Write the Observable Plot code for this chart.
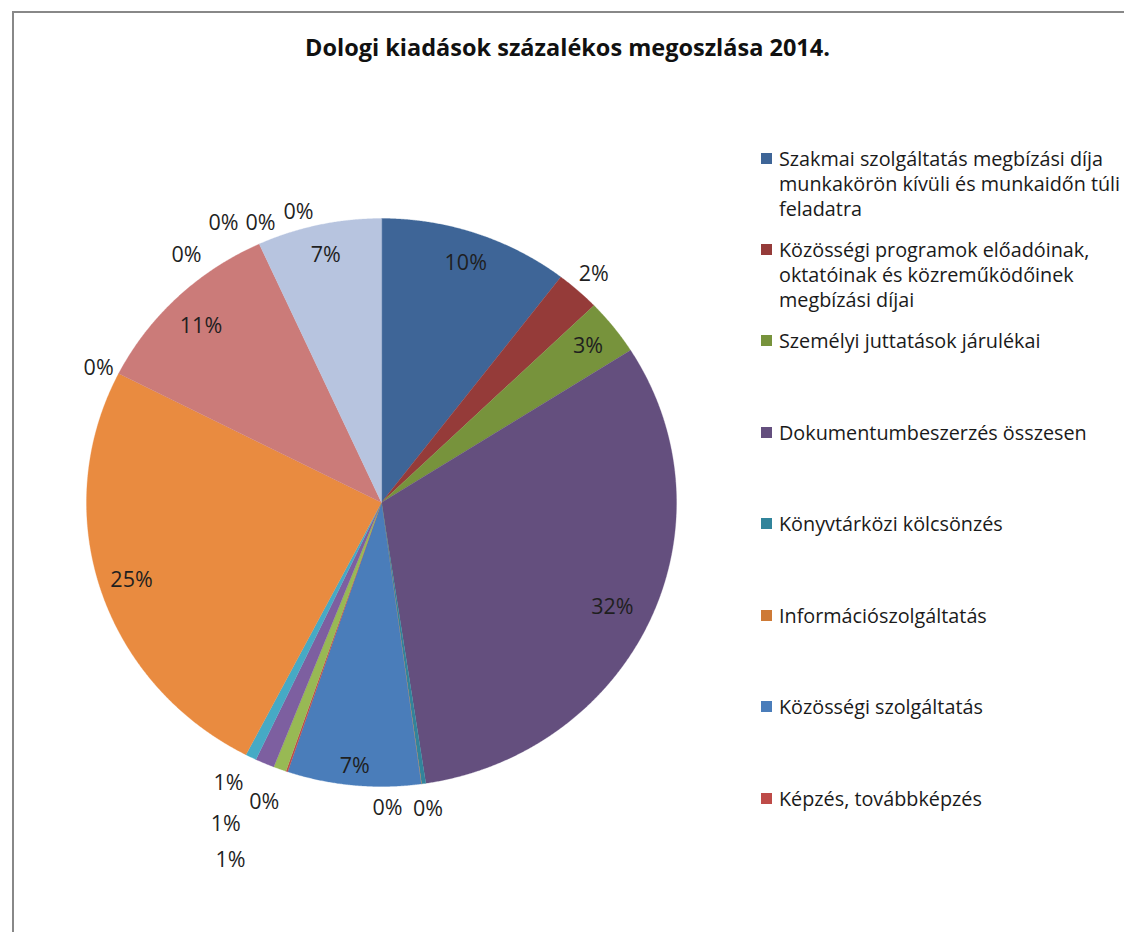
<!DOCTYPE html>
<html><head><meta charset="utf-8">
<script src="https://cdn.jsdelivr.net/npm/d3@7"></script>
<script src="https://cdn.jsdelivr.net/npm/@observablehq/plot@0.6"></script>
<style>
html,body{margin:0;padding:0;background:#fff;}
#page{position:relative;width:1124px;height:932px;overflow:hidden;font-family:"Open Sans",sans-serif;color:#1a1a1a;}
#frame{position:absolute;left:12px;top:11px;width:1200px;height:1000px;border-left:2px solid #888;border-top:2px solid #888;box-sizing:border-box;}
#chart{position:absolute;left:0;top:0;}
#title{position:absolute;left:0;width:1135px;top:32px;line-height:30px;text-align:center;font-weight:700;font-size:23.5px;color:#111;}
#legend{position:absolute;left:761px;top:145.5px;}
.item{height:91.45px;display:flex;align-items:flex-start;}
.sw{width:11px;height:11px;margin-top:7px;margin-right:7px;flex:none;}
.lbl{width:345px;font-size:19.8px;line-height:25px;color:#1a1a1a;}
</style></head>
<body>
<div id="page">
  <div id="frame"></div>
  <div id="chart"></div>
  <div id="title"></div>
  <div id="legend"></div>
</div>
<script>
const titleText = "Dologi kiadások százalékos megoszlása 2014.";
const categories = [
  "Szakmai szolgáltatás megbízási díja munkakörön kívüli és munkaidőn túli feladatra",
  "Közösségi programok előadóinak, oktatóinak és közreműködőinek megbízási díjai",
  "Személyi juttatások járulékai",
  "Dokumentumbeszerzés összesen",
  "Könyvtárközi kölcsönzés",
  "Információszolgáltatás",
  "Közösségi szolgáltatás",
  "Képzés, továbbképzés",
  "Kategória 9", "Kategória 10", "Kategória 11", "Kategória 12", "Kategória 13",
  "Kategória 14", "Kategória 15", "Kategória 16", "Kategória 17", "Kategória 18", "Kategória 19"
];
const values = [10.4, 2.4, 3.2, 31.6, 0.23, 0.02, 7.3, 0.1, 0.7, 1.05, 0.6, 24.9, 0, 10.7, 0, 0, 0, 0, 6.8];
const legendCount = 8;

// palette (Excel-style cycle: darker, base, lighter)
const palette = ["#3E6597","#953B39","#77933C","#644F7E","#31849B","#CE7A36",
                 "#4A7DBA","#BE4B48","#98B954","#7D5FA0","#46AAC5","#E98B40",
                 "#7F9FCF","#CB7B79","#B3CD85","#A08CC0","#7CC6DA","#F9B684","#B7C4DF"];

// layout
const W = 740, H = 932;
const cyTop = 218, cyBot = 786, left = 86, right = 676;
const RX = (right - left) / 2, RY = (cyBot - cyTop) / 2;
// label collision nudges in px (layout only)
const nudge = {3:[-8,0], 4:[1,3], 5:[-37,2], 6:[-2,12], 7:[-15,9], 8:[-46,34], 9:[-25,76], 10:[-12,6],
               12:[1,5], 13:[1,6], 14:[-63,32], 15:[-26,0], 16:[11,0], 17:[49,-11]};

const total = d3.sum(values);
let cum = 0;
const slices = values.map((v, i) => {
  const a0 = cum / total * 2 * Math.PI; cum += v; const a1 = cum / total * 2 * Math.PI;
  return {i, cat: categories[i], v, a0, a1, pct: Math.round(v / total * 100 + 1e-9)};
});
const pts = [];
for (const s of slices) {
  if (s.v <= 0) continue;
  pts.push({cat: s.cat, x: 0, y: 0});
  const n = Math.max(2, Math.ceil((s.a1 - s.a0) / 0.004));
  for (let k = 0; k <= n; k++) {
    const t = s.a0 + (s.a1 - s.a0) * k / n;
    pts.push({cat: s.cat, x: Math.sin(t), y: Math.cos(t)});
  }
}
const labels = slices.map(s => {
  const m = (s.a0 + s.a1) / 2;
  const inside = s.v / total >= 0.03;
  const r = inside ? 0.89 : 1.08;
  const [nx, ny] = nudge[s.i] || [0, 0];
  return {x: r * Math.sin(m) + nx / RX, y: r * Math.cos(m) - ny / RY, text: s.pct + "%"};
});

const chart = Plot.plot({
  width: W, height: H,
  marginLeft: left, marginRight: W - right, marginTop: cyTop, marginBottom: H - cyBot,
  x: {domain: [-1, 1], axis: null},
  y: {domain: [-1, 1], axis: null},
  color: {domain: categories, range: palette},
  style: {background: "transparent", overflow: "visible", fontFamily: "Open Sans"},
  marks: [
    Plot.line(pts, {x: "x", y: "y", z: "cat", fill: "cat", stroke: "cat", strokeWidth: 0.3, curve: "linear-closed"}),
    Plot.text(labels, {x: "x", y: "y", text: "text", fontSize: 21.5, fill: "#1f1f1f", fontFamily: "Open Sans"})
  ]
});
document.getElementById("chart").appendChild(chart);
document.getElementById("title").textContent = titleText;

const leg = document.getElementById("legend");
categories.slice(0, legendCount).forEach((c, i) => {
  const it = document.createElement("div"); it.className = "item";
  const sw = document.createElement("div"); sw.className = "sw"; sw.style.background = palette[i];
  const lb = document.createElement("div"); lb.className = "lbl"; lb.textContent = c;
  it.appendChild(sw); it.appendChild(lb); leg.appendChild(it);
});
</script>
</body></html>
